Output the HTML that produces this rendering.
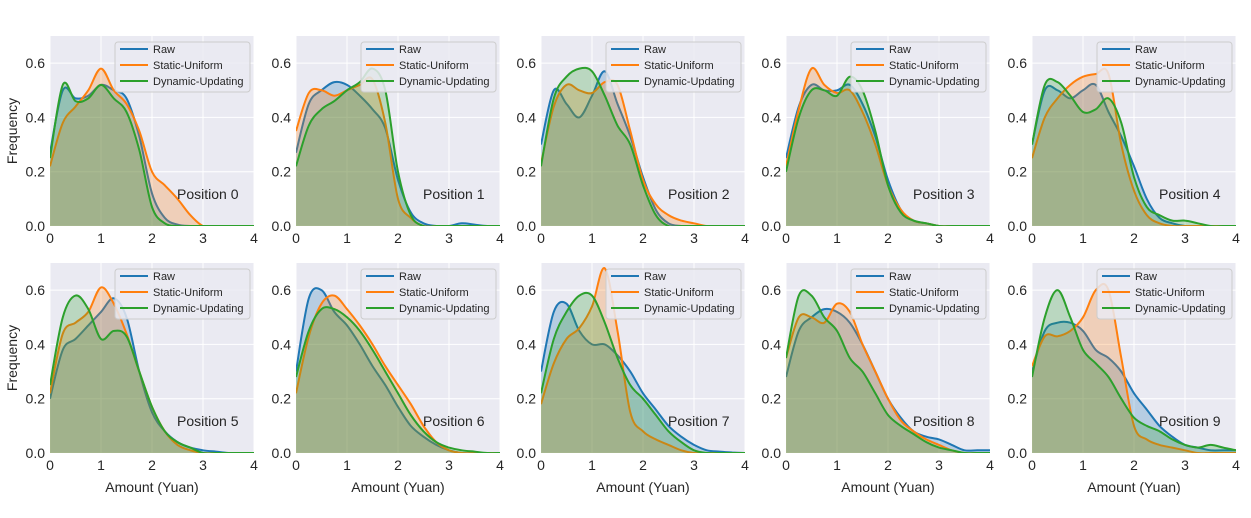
<!DOCTYPE html>
<html><head><meta charset="utf-8"><style>
body{margin:0;background:#fff;font-family:"Liberation Sans",sans-serif;}
svg text{font-family:"Liberation Sans",sans-serif;}
</style></head><body>
<svg id="chart" width="1251" height="513" viewBox="0 0 1251 513" xmlns="http://www.w3.org/2000/svg"></svg>
<script>
const xGrid = [0,0.25,0.5,0.75,1,1.25,1.5,1.75,2,2.25,2.5,2.75,3,3.25,3.5,3.75,4];
const seriesNames = ["Raw","Static-Uniform","Dynamic-Updating"];
const xTicks = [0,1,2,3,4];
const yTicks = [0.0,0.2,0.4,0.6];
const rawVals = [
[0.27,0.5,0.47,0.48,0.52,0.5,0.47,0.33,0.12,0.03,0.005,0,0,0,0,0,0],
[0.27,0.45,0.5,0.53,0.52,0.48,0.43,0.36,0.17,0.05,0.01,0,0,0.01,0.005,0,0],
[0.3,0.5,0.45,0.4,0.48,0.57,0.45,0.33,0.18,0.06,0.01,0,0,0,0,0,0],
[0.25,0.44,0.52,0.5,0.5,0.52,0.45,0.33,0.17,0.06,0.02,0.01,0,0,0,0,0],
[0.3,0.5,0.5,0.47,0.5,0.52,0.42,0.33,0.22,0.1,0.03,0.01,0,0,0,0,0],
[0.2,0.38,0.42,0.47,0.52,0.57,0.5,0.3,0.15,0.08,0.04,0.02,0.01,0.005,0,0,0],
[0.3,0.57,0.6,0.52,0.47,0.4,0.32,0.25,0.17,0.1,0.06,0.03,0.01,0,0,0,0],
[0.3,0.52,0.55,0.45,0.4,0.4,0.36,0.3,0.22,0.16,0.1,0.06,0.03,0.01,0.005,0.002,0],
[0.28,0.45,0.5,0.53,0.52,0.48,0.4,0.3,0.2,0.13,0.08,0.06,0.05,0.03,0.01,0.01,0.01],
[0.3,0.45,0.48,0.48,0.45,0.38,0.35,0.3,0.22,0.16,0.1,0.06,0.03,0.02,0.01,0.01,0.01]];
const staticVals = [
[0.22,0.38,0.44,0.5,0.58,0.5,0.45,0.35,0.2,0.15,0.1,0.04,0,0,0,0,0],
[0.35,0.49,0.5,0.48,0.5,0.52,0.54,0.38,0.1,0.03,0,0,0,0,0,0,0],
[0.23,0.44,0.52,0.5,0.49,0.53,0.52,0.35,0.17,0.08,0.04,0.02,0.01,0,0,0,0],
[0.22,0.43,0.58,0.52,0.49,0.5,0.42,0.3,0.15,0.06,0.02,0.01,0,0,0,0,0],
[0.25,0.4,0.47,0.52,0.55,0.56,0.56,0.3,0.13,0.04,0.01,0,0,0,0,0,0],
[0.22,0.44,0.48,0.52,0.61,0.55,0.44,0.3,0.17,0.08,0.03,0.01,0,0,0,0,0],
[0.22,0.43,0.55,0.58,0.53,0.47,0.4,0.32,0.25,0.18,0.1,0.04,0.01,0,0,0,0],
[0.18,0.33,0.42,0.46,0.54,0.68,0.45,0.15,0.08,0.05,0.03,0.01,0,0,0,0,0],
[0.35,0.5,0.5,0.48,0.55,0.52,0.4,0.3,0.2,0.12,0.08,0.05,0.03,0.01,0,0,0],
[0.32,0.43,0.43,0.45,0.5,0.6,0.6,0.35,0.1,0.05,0.03,0.02,0.01,0,0,0,0]];
const dynamicVals = [
[0.25,0.52,0.46,0.47,0.52,0.47,0.42,0.28,0.07,0.01,0,0,0,0,0,0,0],
[0.22,0.37,0.43,0.46,0.5,0.53,0.58,0.5,0.2,0.04,0,0,0,0,0,0,0],
[0.22,0.47,0.55,0.58,0.57,0.48,0.37,0.3,0.15,0.04,0,0,0,0,0,0,0],
[0.2,0.4,0.5,0.5,0.48,0.55,0.5,0.35,0.15,0.05,0.02,0.01,0,0,0,0,0],
[0.3,0.52,0.53,0.48,0.42,0.43,0.47,0.38,0.18,0.07,0.04,0.02,0.02,0.01,0,0,0],
[0.25,0.5,0.58,0.53,0.42,0.45,0.43,0.3,0.17,0.08,0.04,0.02,0,0,0,0,0],
[0.28,0.45,0.53,0.53,0.5,0.45,0.38,0.3,0.22,0.14,0.08,0.04,0.02,0.01,0.005,0,0],
[0.22,0.42,0.52,0.58,0.58,0.48,0.35,0.25,0.2,0.14,0.08,0.04,0.01,0,0,0,0],
[0.35,0.58,0.58,0.5,0.45,0.35,0.3,0.22,0.14,0.1,0.07,0.04,0.02,0.01,0,0,0],
[0.28,0.5,0.6,0.5,0.38,0.33,0.28,0.2,0.13,0.1,0.08,0.05,0.03,0.02,0.03,0.02,0.01]];

const NS="http://www.w3.org/2000/svg";
const svg=document.getElementById('chart');
const colX=[50,296,541,786,1032], rowY=[36,263], W=204, H=190, YMAX=0.7;
const colors=["#1f77b4","#ff7f0e","#2ca02c"];
function el(t,a,p){const e=document.createElementNS(NS,t);for(const k in a)e.setAttribute(k,a[k]);(p||svg).appendChild(e);return e;}
function spline(pts){let d="M"+pts[0][0]+","+pts[0][1];for(let i=0;i<pts.length-1;i++){const p0=pts[i-1]||pts[i],p1=pts[i],p2=pts[i+1],p3=pts[i+2]||p2;
const c1=[p1[0]+(p2[0]-p0[0])/6,p1[1]+(p2[1]-p0[1])/6],c2=[p2[0]-(p3[0]-p1[0])/6,p2[1]-(p3[1]-p1[1])/6];
d+=` C${c1[0].toFixed(1)},${Math.min(c1[1],0+Infinity).toFixed(1)} ${c2[0].toFixed(1)},${c2[1].toFixed(1)} ${p2[0].toFixed(1)},${p2[1].toFixed(1)}`;}return d;}
for(let p=0;p<10;p++){
  const r=Math.floor(p/5),c=p%5,x0=colX[c],y0=rowY[r];
  const sx=v=>x0+v/4*W, sy=v=>y0+H-v/YMAX*H;
  const g=el('g',{});
  
  
  el('rect',{x:x0,y:y0,width:W,height:H,fill:"#eaeaf2"},g);
  xTicks.forEach(t=>{el('line',{x1:sx(t),x2:sx(t),y1:y0,y2:y0+H,stroke:"#fff","stroke-width":1},g);
    const tx=el('text',{x:sx(t),y:y0+H+17,"text-anchor":"middle","font-size":14,fill:"#262626"},g);tx.textContent=t;});
  yTicks.forEach(t=>{el('line',{x1:x0,x2:x0+W,y1:sy(t),y2:sy(t),stroke:"#fff","stroke-width":1},g);
    const tx=el('text',{x:x0-5,y:sy(t)+5,"text-anchor":"end","font-size":14,fill:"#262626"},g);tx.textContent=t.toFixed(1);});
  const sets=[rawVals[p],staticVals[p],dynamicVals[p]];
  const defsClip=el('clipPath',{id:'clip'+p},g);el('rect',{x:x0,y:y0,width:W,height:H},defsClip);
  const cg=el('g',{"clip-path":`url(#clip${p})`},g);
  sets.forEach((vals,si)=>{
    const pts=xGrid.map((xv,i)=>[sx(xv),sy(vals[i])]);
    const d=spline(pts);
    const f=el('path',{d:d+` L${sx(4)},${sy(0)} L${sx(0)},${sy(0)} Z`,fill:colors[si],"fill-opacity":0.25,stroke:"none"},cg);
    
    
    const l=el('path',{d:d,fill:"none",stroke:colors[si],"stroke-width":2},cg);
    
    
  });
  const lg=el('g',{},g);
  
  
  el('rect',{x:x0+65,y:y0+6,width:135,height:50,rx:3,fill:"#eaeaf2","fill-opacity":0.85,stroke:"#ccc"},lg);
  seriesNames.forEach((n,i)=>{const yy=y0+13+i*16;
    el('line',{x1:x0+70,x2:x0+98,y1:yy,y2:yy,stroke:colors[i],"stroke-width":2},lg);
    const t=el('text',{x:x0+103,y:yy+4,"font-size":11,fill:"#262626"},lg);t.textContent=n;});
  const pt=el('text',{x:x0+127,y:y0+163,"font-size":14,fill:"#262626"},g);pt.textContent="Position "+p;
  
  
  if(c===0){const yl=el('text',{x:0,y:0,transform:`translate(17,${y0+H/2}) rotate(-90)`,"text-anchor":"middle","font-size":14,fill:"#262626"},g);yl.textContent="Frequency";
    }
  if(r===1){const xl=el('text',{x:x0+W/2,y:492,"text-anchor":"middle","font-size":14,fill:"#262626"},g);xl.textContent="Amount (Yuan)";
    }
}
</script>
</body></html>
